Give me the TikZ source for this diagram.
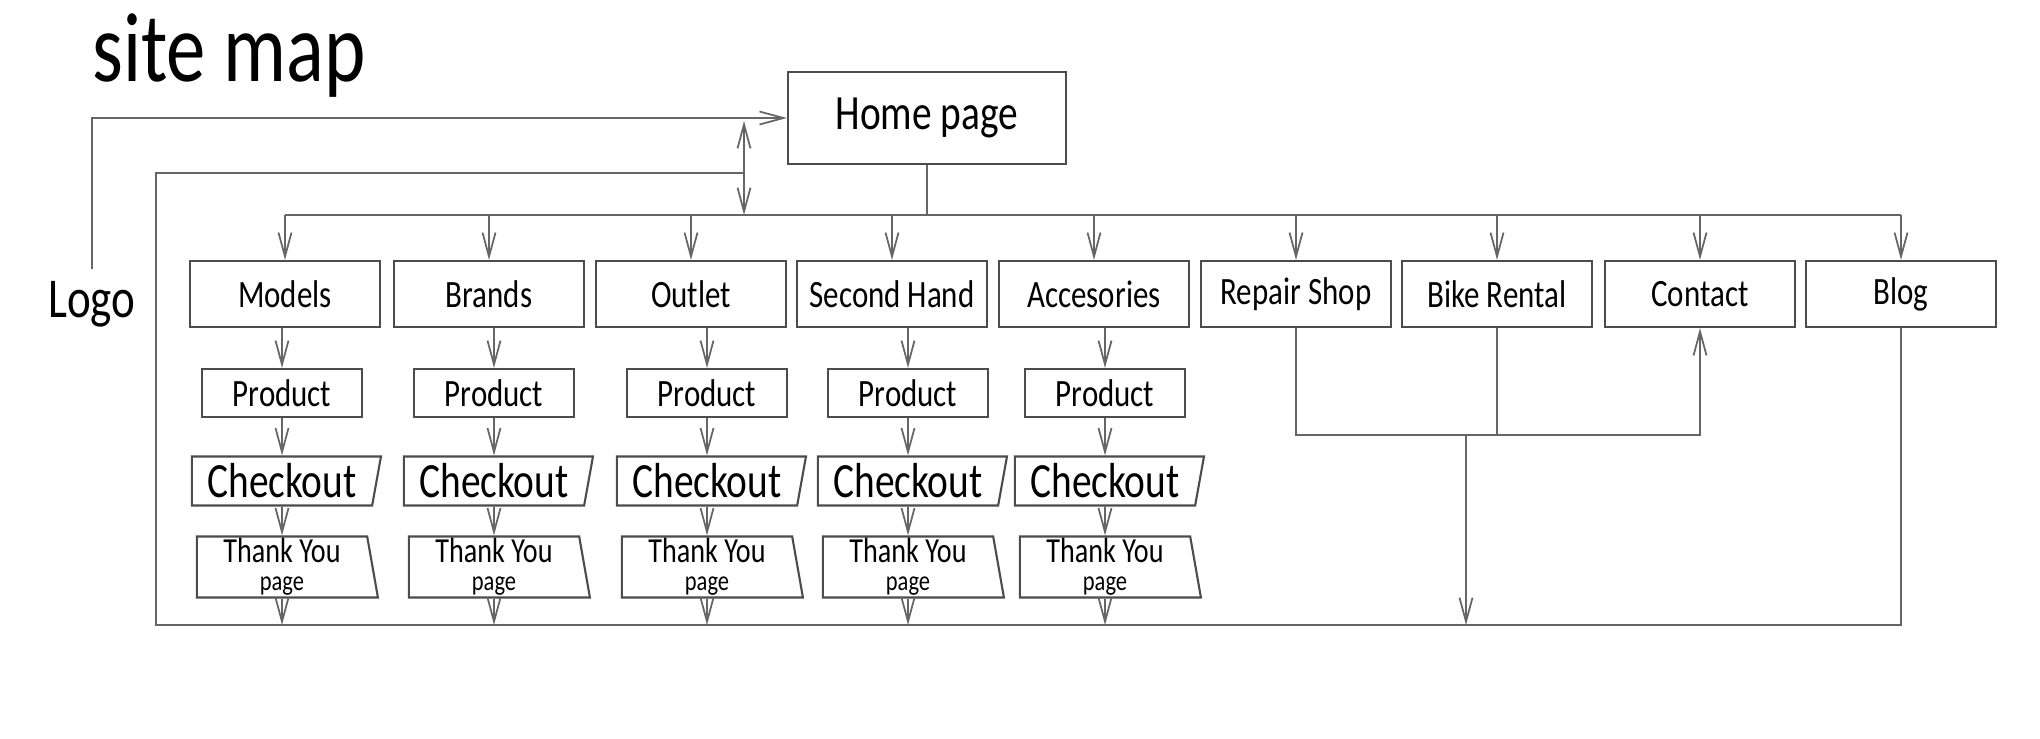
\documentclass[tikz,border=0pt]{standalone}
\usepackage{fontspec}
\setmainfont{Carlito}[FakeStretch=0.8]
\usetikzlibrary{arrows.meta,shapes.geometric}

\begin{document}
\begin{tikzpicture}[
                x=0.01cm, y=-0.01cm,
                link/.style={draw=black!60, line width=0.5pt},
                arr/.style={link, -{Straight Barb[length=2.4mm, width=1.3mm]}},
                pagebox/.style={draw=black!70, line width=0.6pt, inner sep=2pt,
                    minimum width=1.9cm, minimum height=0.66cm, font=\fontsize{11}{13}\selectfont},
                productbox/.style={pagebox, minimum width=1.6cm, minimum height=0.48cm},
                checkbox/.style={pagebox, trapezium, trapezium left angle=90, trapezium right angle=102,
                    trapezium stretches body, minimum width=1.89cm, minimum height=0.49cm,
                    inner sep=1pt, font=\fontsize{14}{16}\selectfont},
                thanksbox/.style={pagebox, trapezium, trapezium left angle=90, trapezium right angle=80,
                    trapezium stretches body, minimum width=1.81cm, minimum height=0.61cm,
                    inner sep=0.5pt, align=center, font=\fontsize{10}{9}\selectfont}
            ]
            \useasboundingbox (0,0) rectangle (2040,738);
            \node[font=\fontsize{28}{30}\selectfont] (title) at (229,56) {site map};
            \node[pagebox, minimum width=2.78cm, minimum height=0.92cm,
                font=\fontsize{14}{16}\selectfont] (home) at (927,118) {Home page};
            \node[font=\fontsize{16}{18}\selectfont] (logo) at (92,304) {Logo};
            \coordinate (bus) at (0,215);
            \coordinate (ret) at (744,173);
            \coordinate (rettip) at (744,121);
            \coordinate (loopbot) at (156,625);
            \coordinate (join) at (1466,435);
            \node[pagebox] (models) at (285,294) {Models};
            \node[pagebox] (brands) at (489,294) {Brands};
            \node[pagebox] (outlet) at (691,294) {Outlet};
            \node[pagebox] (secondhand) at (892,294) {Second Hand};
            \node[pagebox] (accesories) at (1094,294) {Accesories};
            \node[pagebox] (repair) at (1296,294) {Repair Shop};
            \node[pagebox] (bike) at (1497,294) {Bike Rental};
            \node[pagebox] (contact) at (1700,294) {Contact};
            \node[pagebox] (blog) at (1901,294) {Blog};
            \draw[arr] (logo.north) |- (home.west);
            \draw[link] (home.south) -- (home.south |- bus);
            \draw[link] (models.north |- bus) -- (blog.north |- bus);
            \foreach \n in {models,brands,outlet,secondhand,accesories,repair,bike,contact,blog}
                \draw[arr] (\n.north |- bus) -- (\n.north);
            \draw[link] (blog.south) |- (loopbot) |- (ret);
            \draw[arr] (ret) -- (rettip);
            \draw[arr] (ret) -- (ret |- bus);
            \foreach \top/\x [count=\i] in {models/282,brands/494,outlet/707,secondhand/908,accesories/1105} {
                \node[productbox] (p\i) at (\x,393) {Product};
                \node[checkbox] (c\i) at (\x,481) {Checkout};
                \node[thanksbox] (t\i) at (\x,567) {Thank You\\[-1pt]{\fontsize{8}{8}\selectfont page}};
                \draw[arr] (\top.south -| p\i.north) -- (p\i.north);
                \draw[arr] (p\i) -- (c\i);
                \draw[arr] (c\i) -- (t\i);
                \draw[arr] (t\i.south) -- (t\i.south |- loopbot);
            }
            \draw[arr] (repair.south) |- (join) -| (contact.south);
            \draw[link] (bike.south) -- (bike.south |- join);
            \draw[arr] (join) -- (join |- loopbot);
        \end{tikzpicture}
\end{document}
